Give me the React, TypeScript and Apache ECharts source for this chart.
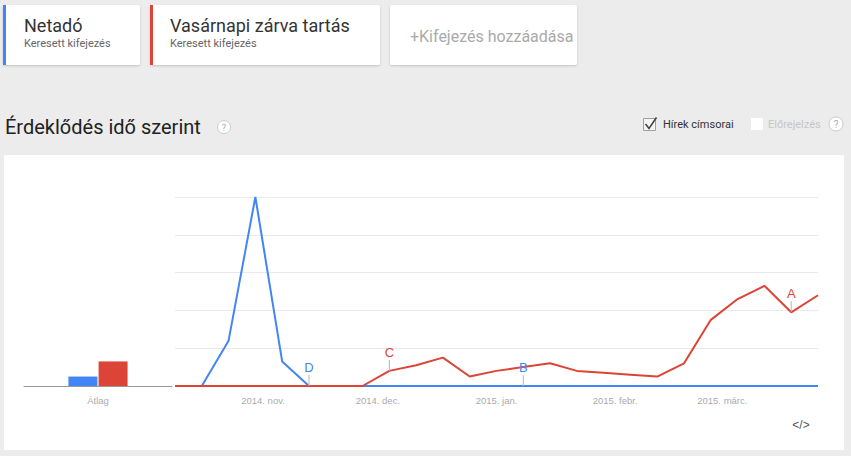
import { useEffect, useRef } from 'react';
import * as echarts from 'echarts';

// ---- Data ----
const terms = ['Netadó', 'Vasárnapi zárva tartás'];
const termColors = ['#4285f4', '#db4437'];
const averageCategory = ['Átlag'];
const averages = [5, 13];

const weekDates = [
  '2014-10-09', '2014-10-16', '2014-10-23', '2014-10-30',
  '2014-11-06', '2014-11-13', '2014-11-20', '2014-11-27',
  '2014-12-04', '2014-12-11', '2014-12-18', '2014-12-25',
  '2015-01-01', '2015-01-08', '2015-01-15', '2015-01-22', '2015-01-29',
  '2015-02-05', '2015-02-12', '2015-02-19', '2015-02-26',
  '2015-03-05', '2015-03-12', '2015-03-19', '2015-03-26',
];
const netadoValues = [0, 0, 24, 100, 13, 0, 0, 0, 0, 0, 0, 0, 0, 0, 0, 0, 0, 0, 0, 0, 0, 0, 0, 0, 0];
const vasarnapValues = [0, 0, 0, 0, 0, 0, 0, 0, 8, 11, 15, 5, 8, 10, 12, 8, 7, 6, 5, 12, 35, 46, 53, 39, 48];

const monthStarts = ['2014-11-01', '2014-12-01', '2015-01-01', '2015-02-01', '2015-03-01'];
const monthLabels = ['2014. nov.', '2014. dec.', '2015. jan.', '2015. febr.', '2015. márc.'];

// markers: [letter, series index, week index]
const markers: [string, number, number][] = [
  ['D', 0, 5],
  ['B', 0, 13],
  ['C', 1, 8],
  ['A', 1, 23],
];

const DAY = 86400000;
const ts = (s: string) => {
  const [y, m, d] = s.split('-').map(Number);
  return Date.UTC(y, m - 1, d);
};
// position on the x axis: days since the first week
const dayPos = (s: string) => Math.round((ts(s) - ts(weekDates[0])) / DAY);

const axisFont = 'Liberation Sans, Arial, sans-serif';
const uiFont = 'Roboto, Arial, sans-serif';

export default function App() {
  const ref = useRef<HTMLDivElement>(null);

  useEffect(() => {
    document.body.style.margin = '0';
    if (!ref.current) return;
    const chart = echarts.init(ref.current, undefined, { renderer: 'svg' });

    const seriesValues = [netadoValues, vasarnapValues];
    const monthPos = monthStarts.map(dayPos);

    const lineSeries = seriesValues.map((vals, si) => ({
      type: 'line',
      name: terms[si],
      xAxisIndex: 1,
      yAxisIndex: 1,
      showSymbol: false,
      z: 3 + si,
      lineStyle: { color: termColors[si], width: 2 },
      itemStyle: { color: termColors[si] },
      data: weekDates.map((d, i) => [dayPos(d), vals[i]]),
      markPoint: {
        silent: true,
        symbol: 'rect',
        symbolSize: [1, 11],
        symbolOffset: [0, -5.5],
        itemStyle: { color: '#b5b5b5' },
        label: {
          show: true,
          position: 'top',
          distance: 1,
          formatter: '{b}',
          color: termColors[si],
          fontSize: 13,
          fontFamily: axisFont,
        },
        data: markers
          .filter((m) => m[1] === si)
          .map((m) => ({ name: m[0], coord: [dayPos(weekDates[m[2]]), vals[m[2]]] })),
      },
    }));

    const barSeries = averages.map((v, si) => ({
      type: 'bar',
      name: terms[si] + ' átlag',
      xAxisIndex: 0,
      yAxisIndex: 0,
      barWidth: 29,
      barGap: '4%',
      itemStyle: { color: termColors[si] },
      data: [v],
    }));

    const gridTop = 197;
    const gridHeight = 189;

    const cardTitle = (text: string, x: number) => ({
      type: 'text',
      style: { text, x, y: 25, fill: '#333', font: `18px ${uiFont}`, verticalAlign: 'middle' },
    });
    const cardSub = (x: number) => ({
      type: 'text',
      style: { text: 'Keresett kifejezés', x, y: 43, fill: '#666', font: `11px ${uiFont}`, verticalAlign: 'middle' },
    });
    const card = (x: number, w: number) => ({
      type: 'rect',
      shape: { x, y: 5, width: w, height: 60, r: 2 },
      style: { fill: '#fff', shadowBlur: 2, shadowColor: 'rgba(0,0,0,0.18)', shadowOffsetY: 1 },
    });

    chart.setOption({
      animation: false,
      backgroundColor: '#ececec',
      graphic: [
        { type: 'rect', z: -10, shape: { x: 4, y: 155, width: 840, height: 295 }, style: { fill: '#fff' } },
        card(3, 137),
        { type: 'rect', shape: { x: 3, y: 5, width: 3, height: 60 }, style: { fill: termColors[0] } },
        cardTitle(terms[0], 24),
        cardSub(24),
        card(150, 230),
        { type: 'rect', shape: { x: 150, y: 5, width: 3, height: 60 }, style: { fill: termColors[1] } },
        cardTitle(terms[1], 170),
        cardSub(170),
        card(390, 187),
        {
          type: 'text',
          style: { text: '+Kifejezés hozzáadása', x: 410, y: 36, fill: '#aaa', font: `16px ${uiFont}`, verticalAlign: 'middle' },
        },
        {
          type: 'text',
          style: { text: 'Érdeklődés idő szerint', x: 5, y: 127, fill: '#222', font: `20px ${uiFont}`, verticalAlign: 'middle' },
        },
        { type: 'circle', shape: { cx: 224, cy: 127, r: 6.5 }, style: { fill: '#fff', stroke: '#ccc', lineWidth: 1 } },
        {
          type: 'text',
          style: { text: '?', x: 224, y: 127.5, fill: '#aaa', font: `9px ${uiFont}`, align: 'center', verticalAlign: 'middle' },
        },
        { type: 'rect', shape: { x: 643.5, y: 118.5, width: 12, height: 12 }, style: { fill: '#f4f4f4', stroke: '#a0a0a0', lineWidth: 1 } },
        { type: 'polyline', shape: { points: [[645.5, 124], [649, 128.5], [656.5, 117.5]] }, style: { stroke: '#444', lineWidth: 1.6, fill: 'none' } },
        {
          type: 'text',
          style: { text: 'Hírek címsorai', x: 663, y: 124, fill: '#333', font: `11px ${uiFont}`, verticalAlign: 'middle' },
        },
        { type: 'rect', shape: { x: 751, y: 118, width: 12, height: 12 }, style: { fill: '#fff' } },
        {
          type: 'text',
          style: { text: 'Előrejelzés', x: 768, y: 124, fill: '#c6c6c6', font: `11px ${uiFont}`, verticalAlign: 'middle' },
        },
        { type: 'circle', shape: { cx: 836, cy: 124, r: 7 }, style: { fill: '#fff', stroke: '#ccc', lineWidth: 1 } },
        {
          type: 'text',
          style: { text: '?', x: 836, y: 124.5, fill: '#aaa', font: `10px ${uiFont}`, align: 'center', verticalAlign: 'middle' },
        },
        {
          type: 'text',
          style: { text: '</>', x: 801, y: 425, fill: '#555', font: `12px ${axisFont}`, align: 'center', verticalAlign: 'middle' },
        },
      ],
      grid: [
        { left: 24, top: gridTop, width: 148, height: gridHeight },
        { left: 175, top: gridTop, width: 643, height: gridHeight },
      ],
      xAxis: [
        {
          type: 'category',
          gridIndex: 0,
          data: averageCategory,
          axisLine: { show: true, lineStyle: { color: '#999', width: 1 } },
          axisTick: { show: false },
          axisLabel: { color: '#aaa', fontSize: 9.5, fontFamily: axisFont, margin: 9 },
        },
        {
          type: 'value',
          gridIndex: 1,
          min: 0,
          max: dayPos(weekDates[weekDates.length - 1]),
          axisLine: { show: false },
          axisTick: { show: false },
          splitLine: { show: false },
          axisLabel: {
            color: '#aaa',
            fontSize: 9.5,
            fontFamily: axisFont,
            margin: 9,
            customValues: monthPos,
            formatter: (val: number) => {
              const i = monthPos.indexOf(val);
              return i >= 0 ? monthLabels[i] : '';
            },
          },
        },
      ],
      yAxis: [
        {
          type: 'value',
          gridIndex: 0,
          min: 0,
          max: 100,
          interval: 20,
          axisLine: { show: false },
          axisTick: { show: false },
          axisLabel: { show: false },
          splitLine: { show: false },
        },
        {
          type: 'value',
          gridIndex: 1,
          min: 0,
          max: 100,
          interval: 20,
          axisLine: { show: false },
          axisTick: { show: false },
          axisLabel: { show: false },
          splitLine: { show: true, lineStyle: { color: '#e9e9e9', width: 1 } },
        },
      ],
      series: [...barSeries, ...lineSeries],
    });

    return () => chart.dispose();
  }, []);

  return <div ref={ref} style={{ width: 851, height: 456 }} />;
}
